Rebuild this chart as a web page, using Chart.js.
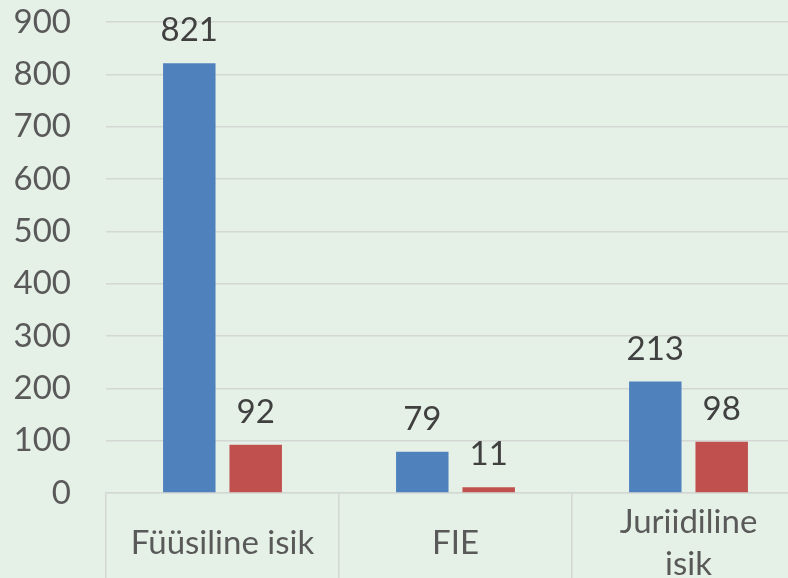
<!DOCTYPE html>
<html>
<head>
<meta charset="utf-8">
<script src="https://cdn.jsdelivr.net/npm/chart.js@4/dist/chart.umd.min.js"></script>
<style>
  html, body { margin: 0; padding: 0; background: #e5f1e7; overflow: hidden; }
  .wrap { width: 788px; height: 578px; overflow: hidden; }
  .box { width: 805px; height: 578px; }
</style>
</head>
<body>
<div class="wrap"><div class="box"><canvas id="chart"></canvas></div></div>
<script>
const categories = ["Füüsiline isik", "FIE", ["Juriidiline", "isik"]];
const seriesBlue = [821, 79, 213];
const seriesRed = [92, 11, 98];
const yTicks = [0, 100, 200, 300, 400, 500, 600, 700, 800, 900];

const valueLabels = {
    id: "valueLabels",
    afterDatasetsDraw(chart) {
        const ctx = chart.ctx;
        ctx.save();
        ctx.font = "33px Lato";
        ctx.fillStyle = "#404040";
        ctx.textAlign = "center";
        ctx.textBaseline = "alphabetic";
        chart.data.datasets.forEach((ds, i) => {
            chart.getDatasetMeta(i).data.forEach((bar, j) => {
                ctx.fillText(ds.data[j], bar.x, bar.y - 22);
            });
        });
        ctx.restore();
    }
};

const createChart = () => {
    const ctx = document.querySelector("canvas#chart");

    new Chart(ctx, {
        type: "bar",
        data: {
            labels: categories,
            datasets: [
                {
                    data: seriesBlue,
                    backgroundColor: "#4f81bd",
                    categoryPercentage: 0.57,
                    barPercentage: 0.79
                },
                {
                    data: seriesRed,
                    backgroundColor: "#c0504d",
                    categoryPercentage: 0.57,
                    barPercentage: 0.79
                }
            ]
        },
        options: {
            responsive: true,
            maintainAspectRatio: false,
            animation: false,
            layout: { padding: { top: 22, left: 0, right: 0, bottom: 0 } },
            plugins: {
                legend: { display: false },
                tooltip: { enabled: false }
            },
            scales: {
                x: {
                    offset: true,
                    grid: {
                        offset: true,
                        drawOnChartArea: false,
                        drawTicks: true,
                        tickLength: 85,
                        color: "#d4d8d4",
                        lineWidth: 1.5
                    },
                    border: { display: true, color: "#d4d8d4", width: 1.5 },
                    ticks: {
                        color: "#595959",
                        font: { family: "Lato", size: 33, lineHeight: 1.27 },
                        padding: -56,
                        crossAlign: "center",
                        maxRotation: 0,
                        autoSkip: false
                    },
                    afterFit: (s) => { s.height = 85; s.paddingLeft = 0; s.paddingRight = 0; }
                },
                y: {
                    min: 0,
                    max: 900,
                    afterBuildTicks: (s) => { s.ticks = yTicks.map(v => ({ value: v })); },
                    grid: {
                        drawTicks: false,
                        color: "#d4d8d4",
                        lineWidth: 1.5
                    },
                    border: { display: false },
                    ticks: {
                        color: "#595959",
                        font: { family: "Lato", size: 33 },
                        padding: 35
                    },
                    afterFit: (s) => { s.width = 106; s.paddingTop = 0; s.paddingBottom = 0; }
                }
            }
        },
        plugins: [valueLabels]
    });
};

createChart();
</script>
</body>
</html>
